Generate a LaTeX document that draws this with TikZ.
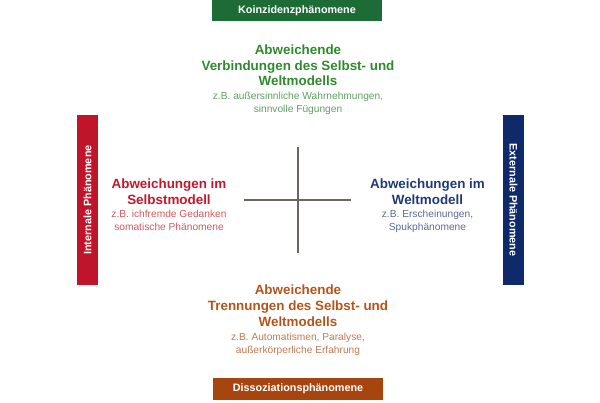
\documentclass[tikz,border=0pt]{standalone}
\usepackage{fontspec}
\setmainfont{Liberation Sans}
\definecolor{gbox}{HTML}{1D6B35}
\definecolor{gtit}{HTML}{2F8A2F}
\definecolor{gsub}{HTML}{5FA05F}
\definecolor{rbar}{HTML}{C0142B}
\definecolor{rtit}{HTML}{C4162C}
\definecolor{rsub}{HTML}{D0585F}
\definecolor{nbar}{HTML}{0F2A6A}
\definecolor{ntit}{HTML}{1F3A78}
\definecolor{nsub}{HTML}{5A6A94}
\definecolor{bbox}{HTML}{A7450F}
\definecolor{btit}{HTML}{B5541A}
\definecolor{bsub}{HTML}{C27A4E}
\definecolor{crossc}{HTML}{6B6560}
\tikzset{
  ttl/.style={anchor=base,inner sep=0pt,font=\fontsize{13.4}{15.5}\selectfont\bfseries},
  sub/.style={anchor=base,inner sep=0pt,font=\fontsize{10.2}{12.5}\selectfont},
  lab/.style={inner sep=0pt,text=white,font=\fontsize{10.8}{12}\selectfont\bfseries},
  crossline/.style={draw=crossc,line width=1.5pt}
}
\begin{document}
\begin{tikzpicture}[x=1pt,y=-1pt]
\useasboundingbox (0,0) rectangle (600,403);
% boxes and bars
\fill[gbox] (212,0) rectangle (382,21);
\node[lab] (kz) at (297,10.5) {Koinzidenzphänomene};
\fill[bbox] (213,378) rectangle (383,400);
\node[lab] (ds) at (298,389) {Dissoziationsphänomene};
\fill[rbar] (77,115) rectangle (98,285);
\node[lab,rotate=90] (ip) at (87.5,200) {Internale Phänomene};
\fill[nbar] (503,115) rectangle (524,285);
\node[lab,rotate=-90] (ep) at (513.5,200) {Externale Phänomene};
% cross
\coordinate (hl) at (244,200);
\coordinate (hr) at (351,200);
\coordinate (vt) at (298,147);
\coordinate (vb) at (298,253);
\draw[crossline] (hl) -- (hr);
\draw[crossline] (vt) -- (vb);
% top
\node[ttl,text=gtit] (t1) at (298,55) {Abweichende};
\node[ttl,text=gtit] (t2) at (298,70.5) {Verbindungen des Selbst- und};
\node[ttl,text=gtit] (t3) at (298,86) {Weltmodells};
\node[sub,text=gsub] (t4) at (298,100) {z.B. außersinnliche Wahrnehmungen,};
\node[sub,text=gsub] (t5) at (298,112.5) {sinnvolle Fügungen};
% left
\node[ttl,text=rtit] (l1) at (169,188.3) {Abweichungen im};
\node[ttl,text=rtit] (l2) at (169,204.3) {Selbstmodell};
\node[sub,text=rsub] (l3) at (169,218) {z.B. ichfremde Gedanken};
\node[sub,text=rsub] (l4) at (169,230.5) {somatische Phänomene};
% right
\node[ttl,text=ntit] (r1) at (427.5,188.3) {Abweichungen im};
\node[ttl,text=ntit] (r2) at (427.5,204.3) {Weltmodell};
\node[sub,text=nsub] (r3) at (427.5,218) {z.B. Erscheinungen,};
\node[sub,text=nsub] (r4) at (427.5,230.5) {Spukphänomene};
% bottom
\node[ttl,text=btit] (b1) at (298,295) {Abweichende};
\node[ttl,text=btit] (b2) at (298,310.7) {Trennungen des Selbst- und};
\node[ttl,text=btit] (b3) at (298,326.5) {Weltmodells};
\node[sub,text=bsub] (b4) at (298,341) {z.B. Automatismen, Paralyse,};
\node[sub,text=bsub] (b5) at (298,353.5) {außerkörperliche Erfahrung};
\end{tikzpicture}
\end{document}
